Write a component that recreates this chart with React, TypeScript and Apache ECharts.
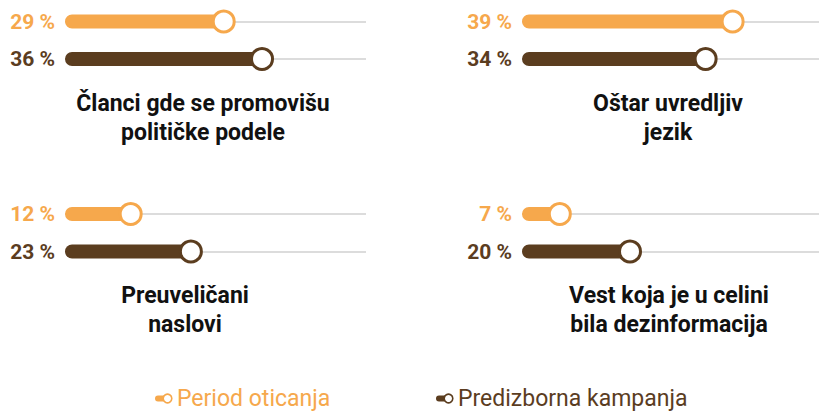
import React, { useEffect, useRef } from "react";
import * as echarts from "echarts";

// ---- data ----
const panelTitles = [
  "Članci gde se promovišu\npolitičke podele",
  "Oštar uvredljiv\njezik",
  "Preuveličani\nnaslovi",
  "Vest koja je u celini\nbila dezinformacija",
];
const seriesNames = ["Period oticanja", "Predizborna kampanja"];
const periodOticanja = [29, 39, 12, 7];
const predizbornaKampanja = [36, 34, 23, 20];
const axisMax = 55;

// ---- style / layout ----
const ORANGE = "#F6A84C";
const BROWN = "#5B3D1F";
const TRACK = "#DCDCDC";
const FONT = "Roboto, 'DejaVu Sans', sans-serif";

const panels = [
  { left: 65, width: 301, top: 21.5, titleX: 203, titleY: 89 },
  { left: 522, width: 297, top: 21.5, titleX: 668, titleY: 89 },
  { left: 65, width: 301, top: 214, titleX: 185, titleY: 281 },
  { left: 522, width: 297, top: 214, titleX: 669, titleY: 281 },
];

export default function App() {
  const ref = useRef<HTMLDivElement>(null);

  useEffect(() => {
    document.body.style.margin = "0";
    if (!ref.current) return;
    const chart = echarts.init(ref.current, undefined, { renderer: "svg" });
    const colors = [ORANGE, BROWN];
    const grids: any[] = [];
    const xAxes: any[] = [];
    const yAxes: any[] = [];
    const series: any[] = [];
    const titles: any[] = [];

    panels.forEach((p, i) => {
      grids.push({ left: p.left, width: p.width, top: p.top, height: 37.5, containLabel: false });
      xAxes.push({ type: "value", gridIndex: i, min: 0, max: axisMax, show: false });
      yAxes.push({
        type: "category",
        gridIndex: i,
        data: seriesNames,
        inverse: true,
        boundaryGap: false,
        axisLine: { show: false },
        axisTick: { show: false },
        axisLabel: { show: false },
        splitLine: { show: true, lineStyle: { color: TRACK, width: 2 } },
      });
      const vals = [periodOticanja[i], predizbornaKampanja[i]];
      series.push({
        type: "bar",
        name: panelTitles[i].replace("\n", " "),
        xAxisIndex: i,
        yAxisIndex: i,
        barWidth: 14,
        clip: false,
        z: 2,
        data: vals.map((v, k) => ({
          value: v,
          itemStyle: { color: colors[k], borderRadius: 7 },
          label: { color: colors[k] },
        })),
        label: {
          show: true,
          position: "left",
          distance: 10,
          formatter: "{c} %",
          fontSize: 21,
          fontWeight: "bold",
          fontFamily: FONT,
        },
      });
      series.push({
        type: "scatter",
        xAxisIndex: i,
        yAxisIndex: i,
        clip: false,
        z: 3,
        symbol: "circle",
        symbolSize: 21,
        data: vals.map((v, k) => ({
          value: [v, k],
          itemStyle: { color: "#ffffff", borderColor: colors[k], borderWidth: 3, opacity: 1 },
        })),
      });
      titles.push({
        text: panelTitles[i],
        left: p.titleX,
        top: p.titleY,
        padding: 0,
        textAlign: "center",
        textStyle: {
          fontFamily: FONT,
          fontSize: 23,
          fontWeight: "bold",
          color: "#111111",
          lineHeight: 29,
        },
      });
    });

    const legendItems = [
      { x: 155, color: ORANGE, name: seriesNames[0] },
      { x: 436, color: BROWN, name: seriesNames[1] },
    ];
    const graphic: any[] = legendItems.map((it) => ({
      type: "group",
      children: [
        {
          type: "rect",
          shape: { x: it.x, y: 395.5, width: 11, height: 6, r: [3, 0, 0, 3] },
          style: { fill: it.color },
        },
        {
          type: "circle",
          shape: { cx: it.x + 12.5, cy: 398.5, r: 4.3 },
          style: { fill: "#ffffff", stroke: it.color, lineWidth: 1.6 },
        },
        {
          type: "text",
          x: it.x + 22,
          y: 398,
          style: {
            text: it.name,
            fill: it.color,
            font: `23px ${FONT}`,
            verticalAlign: "middle",
            align: "left",
          },
        },
      ],
    }));

    chart.setOption({
      animation: false,
      backgroundColor: "#ffffff",
      title: titles,
      grid: grids,
      xAxis: xAxes,
      yAxis: yAxes,
      series,
      graphic,
    });
    return () => chart.dispose();
  }, []);

  return <div ref={ref} style={{ width: 819, height: 411 }} />;
}
